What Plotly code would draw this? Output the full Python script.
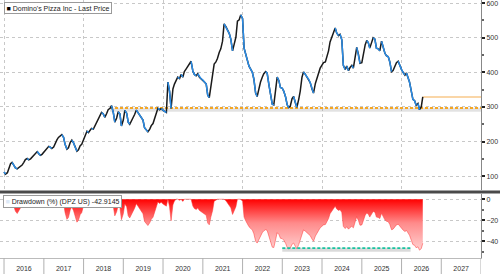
import plotly.graph_objects as go
import pandas as pd
import numpy as np

# ---------------- data (semi-monthly) ----------------
series_start = "2016-01-01"
prices = [
    # 2016
    112, 106, 110, 126, 136, 140, 130, 124, 121, 124, 129, 132,
    140, 148, 151, 147, 150, 155, 160, 168, 171, 165, 160, 163,
    # 2017
    170, 176, 180, 186, 184, 180, 184, 196, 205, 212, 216, 220,
    212, 192, 178, 182, 198, 204, 196, 184, 172, 176, 188, 192,
    # 2018
    206, 222, 230, 226, 234, 238, 236, 245, 252, 264, 276, 284,
    280, 270, 281, 292, 296, 304, 284, 256, 268, 286, 280, 245,
    # 2019
    262, 290, 282, 256, 250, 258, 268, 278, 291, 284, 276, 270,
    262, 240, 232, 228, 236, 246, 252, 268, 286, 296, 292, 295,
    # 2020
    290, 287, 284, 372, 345, 296, 352, 366, 380, 386, 382, 394,
    386, 402, 410, 418, 426, 432, 404, 394, 390, 396, 386, 382,
    # 2021
    378, 372, 366, 334, 327, 358, 386, 424, 430, 440, 458, 468,
    490, 540, 532, 522, 512, 496, 462, 480, 502, 548, 552, 566,
    # 2022
    555, 470, 448, 430, 418, 410, 400, 380, 340, 330, 354, 372,
    386, 396, 402, 398, 362, 332, 308, 306, 348, 386, 376, 356,
    # 2023
    354, 345, 328, 306, 298, 302, 324, 330, 312, 299, 322, 346,
    386, 401, 394, 386, 380, 370, 352, 340, 368, 386, 398, 412,
    # 2024
    420, 428, 430, 444, 462, 488, 504, 518, 528, 514, 506, 510,
    494, 420, 408, 418, 405, 414, 420, 412, 440, 472, 452, 426,
    # 2025
    428, 452, 480, 492, 486, 470, 488, 500, 496, 470, 468, 462,
    490, 470, 455, 448, 445, 430, 402, 405, 418, 428, 432, 420,
    # 2026
    408, 400, 392, 398, 385, 372, 345, 322, 318, 305, 310, 292,
    300, 329,
]

support_level = 297
support_start = "2018-09-01"
axis_end = "2028-01-01"
axis_start = "2015-11-25"
last_line_level = 329
dd_support_level = -46.5
dd_support_start = "2023-01-01"
dd_support_end = "2026-03-25"
legend_price = "Domino's Pizza Inc - Last Price"
legend_dd = "Drawdown (%) (DPZ US) -42.9145"
year_labels = list(range(2016, 2029))

price_ticks = [100, 200, 300, 400, 500, 600]
dd_ticks = [0, -20, -40]

# ---------------- derived ----------------
dates = pd.date_range(series_start, periods=len(prices), freq="SMS")
p = np.array(prices, dtype=float)
drawdown = (p / np.maximum.accumulate(p) - 1.0) * 100.0

# declining segments drawn in blue
bx, by = [], []
for i in range(len(p) - 1):
    if p[i + 1] < p[i]:
        if bx and bx[-1] is not None and bx[-1] == dates[i]:
            bx.append(dates[i + 1]); by.append(p[i + 1])
        else:
            bx += [None, dates[i], dates[i + 1]]
            by += [None, p[i], p[i + 1]]

fig = go.Figure()

# support line (price) with shadow
fig.add_trace(go.Scatter(x=[support_start, axis_end], y=[support_level - 5, support_level - 5],
                         mode="lines", line=dict(color="rgba(160,160,160,0.3)", width=4),
                         hoverinfo="skip", showlegend=False))
fig.add_trace(go.Scatter(x=[support_start, axis_end], y=[support_level, support_level],
                         mode="lines", line=dict(color="#f5a623", width=2, dash="3px,2px"),
                         showlegend=False))
fig.add_trace(go.Scatter(x=[dates[-1], axis_end], y=[last_line_level, last_line_level],
                         mode="lines", line=dict(color="#f9c88a", width=1.5),
                         showlegend=False))

fig.add_trace(go.Scatter(x=dates, y=p, mode="lines",
                         line=dict(color="#1a1a1a", width=1.5), showlegend=False))
fig.add_trace(go.Scatter(x=bx, y=by, mode="lines", connectgaps=False,
                         line=dict(color="#2a8de8", width=1.5), showlegend=False))

# drawdown
fig.add_trace(go.Scatter(x=dates, y=drawdown, xaxis="x2", yaxis="y2", mode="lines",
                         fill="tozeroy", line=dict(color="#ff3030", width=0.5),
                         fillgradient=dict(type="vertical",
                                           colorscale=[[0, "#ffd4d4"], [0.55, "#ff8a8a"], [1, "#ff0000"]],
                                           start=-50, stop=0),
                         showlegend=False))
fig.add_trace(go.Scatter(x=[dd_support_start, dd_support_end], y=[dd_support_level - 1.6, dd_support_level - 1.6],
                         xaxis="x2", yaxis="y2", mode="lines",
                         line=dict(color="rgba(150,150,150,0.35)", width=4), showlegend=False))
fig.add_trace(go.Scatter(x=[dd_support_start, dd_support_end], y=[dd_support_level, dd_support_level],
                         xaxis="x2", yaxis="y2", mode="lines",
                         line=dict(color="#17c3a0", width=1.6, dash="3px,2px"), showlegend=False))

H = 258.0
top_dom = [(H - 190) / H, 1]
bot_dom = [0, (H - 194) / H]
tickfont = dict(family="Liberation Sans, Arial, sans-serif", size=7, color="#333")

fig.update_layout(
    width=500, height=274,
    margin=dict(l=0, r=19, t=0, b=16),
    paper_bgcolor="white", plot_bgcolor="white",
    xaxis=dict(domain=[0, 1], range=[axis_start, axis_end], type="date",
               showgrid=True, gridcolor="#c8c8c8", griddash="dot", gridwidth=1,
               dtick="M24", tick0="2016-01-01", showticklabels=False, ticks="",
               zeroline=False, anchor="y"),
    yaxis=dict(domain=top_dom, range=[60, 609], side="right", anchor="x",
               tickvals=price_ticks, ticks="outside", ticklen=3, tickwidth=1.5, tickcolor="#222",
               minor=dict(dtick=50, ticks="outside", ticklen=2, tickcolor="#666", showgrid=False),
               showgrid=True, gridcolor="#c8c8c8", griddash="dot",
               showline=True, linecolor="#888", linewidth=1, zeroline=False,
               ticklabeloverflow="allow", tickfont=tickfont),
    xaxis2=dict(domain=[0, 1], range=[axis_start, axis_end], type="date", matches="x",
                anchor="y2", showgrid=False, dtick="M12", tick0="2016-01-01",
                ticklabelmode="period", tickformat="%Y", ticks="", ticklabelstandoff=4,
                showline=True, linecolor="#bbb", linewidth=1, zeroline=False,
                tickfont=tickfont),
    yaxis2=dict(domain=bot_dom, range=[-55.9, 5], side="right", anchor="x2",
                tickvals=dd_ticks, ticks="outside", ticklen=3, tickwidth=1.5, tickcolor="#222",
                minor=dict(dtick=10, ticks="outside", ticklen=2, tickcolor="#666", showgrid=False),
                showgrid=True, gridcolor="#c8c8c8", griddash="dot",
                showline=True, linecolor="#888", linewidth=1, zeroline=False,
                ticklabeloverflow="allow", tickfont=tickfont),
    font=dict(family="Liberation Sans, Arial, sans-serif"),
)

shapes = []
for yr in year_labels:
    shapes.append(dict(type="line", xref="x2", yref="paper", x0=f"{yr}-01-01", x1=f"{yr}-01-01",
                       y0=-16 / H, y1=0, line=dict(color="#b0b0b0", width=1)))
shapes.append(dict(type="line", xref="paper", yref="paper", x0=0, x1=500 / 481,
                   y0=(H - 192) / H, y1=(H - 192) / H, line=dict(color="#4a4a4a", width=3)))
fig.update_layout(shapes=shapes)

fig.add_annotation(xref="paper", yref="paper", x=4 / 481, y=1 - 2 / H, xanchor="left", yanchor="top",
                   text="<span style='color:#000'>■</span> " + legend_price.replace("'", "&#39;"),
                   showarrow=False, font=dict(size=7, color="#222", family="Liberation Sans, Arial, sans-serif"),
                   bgcolor="white", bordercolor="#9a9a9a", borderwidth=1, borderpad=1.5)
fig.add_annotation(xref="paper", yref="paper", x=3 / 481, y=(H - 195) / H, xanchor="left", yanchor="top",
                   text="<span style='color:#dde9f7'>■</span> " + legend_dd,
                   showarrow=False, font=dict(size=7, color="#222", family="Liberation Sans, Arial, sans-serif"),
                   bgcolor="white", bordercolor="#9a9a9a", borderwidth=1, borderpad=1.5)

fig.write_html("out.html")
